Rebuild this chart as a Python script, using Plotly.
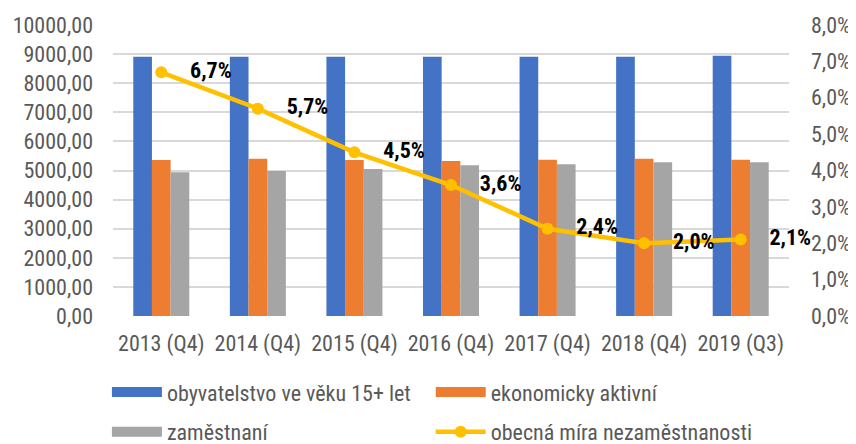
import plotly.graph_objects as go

categories = ["2013 (Q4)", "2014 (Q4)", "2015 (Q4)", "2016 (Q4)", "2017 (Q4)", "2018 (Q4)", "2019 (Q3)"]
obyvatelstvo = [8905, 8905, 8905, 8905, 8905, 8905, 8945]
aktivni = [5365, 5405, 5365, 5325, 5370, 5405, 5370]
zamestnani = [4940, 4985, 5055, 5180, 5215, 5280, 5280]
mira = [6.7, 5.7, 4.5, 3.6, 2.4, 2.0, 2.1]

names = ["obyvatelstvo ve věku 15+ let", "ekonomicky aktivní", "zaměstnaní", "obecná míra nezaměstnanosti"]
BLUE, ORANGE, GRAY, YELLOW = "#4472C4", "#ED7D31", "#A5A5A5", "#FFC000"

FONT = "Roboto Condensed, Roboto, sans-serif"
TICKC = "#595959"
FS = 22

fig = go.Figure()
for vals, col in [(obyvatelstvo, BLUE), (aktivni, ORANGE), (zamestnani, GRAY)]:
    fig.add_trace(go.Bar(x=categories, y=vals, marker=dict(color=col, line=dict(width=0)),
                         showlegend=False, hoverinfo="y"))

labels = ["    " + f"{v:.1f}".replace(".", ",") + "%" for v in mira]
fig.add_trace(go.Scatter(x=categories, y=mira, yaxis="y2", mode="lines+markers+text",
                         line=dict(color=YELLOW, width=4.5), marker=dict(color=YELLOW, size=12),
                         text=labels, textposition="middle right", cliponaxis=False,
                         textfont=dict(family=FONT, size=22, color="black", weight="bold"),
                         name=names[3], legend="legend2", legendgroup="d", legendrank=2))

# legend proxies for the bar series (wide swatches)
for nm, col, lg, grp, rk in [(names[0], BLUE, "legend", "a", 1), (names[2], GRAY, "legend", "c", 2),
                              (names[1], ORANGE, "legend2", "b", 1)]:
    fig.add_trace(go.Scatter(x=[None], y=[None], mode="lines", line=dict(color=col, width=11),
                             name=nm, legend=lg, legendgroup=grp, legendrank=rk))

fig.update_layout(
    width=848, height=436,
    margin=dict(l=105, r=67, t=17, b=128, autoexpand=False),
    paper_bgcolor="white", plot_bgcolor="white",
    separators=",.",
    font=dict(family=FONT, size=FS, color=TICKC),
    barmode="group", bargap=0.42, bargroupgap=0,
    xaxis=dict(showgrid=False, showline=False, ticks="", tickangle=0, automargin=False,
               ticklabelstandoff=12, tickfont=dict(size=FS, color=TICKC)),
    yaxis=dict(range=[0, 10000], dtick=1000, tickformat=".2f", showgrid=True, automargin=False,
               gridcolor="#D9D9D9", gridwidth=2, zeroline=False, showline=False,
               ticklabelstandoff=19, tickfont=dict(size=FS, color=TICKC)),
    yaxis2=dict(range=[0, 8], dtick=1, tickformat=".1f", ticksuffix="%", overlaying="y",
                side="right", showgrid=False, zeroline=False, showline=False, automargin=False,
                ticklabelstandoff=21, tickfont=dict(size=FS, color=TICKC)),
    legend=dict(x=-0.009, y=-0.19, xanchor="left", yanchor="top", orientation="v",
                itemwidth=50, tracegroupgap=8, font=dict(size=FS, color=TICKC),
                bgcolor="rgba(0,0,0,0)", traceorder="grouped"),
    legend2=dict(x=0.47, y=-0.19, xanchor="left", yanchor="top", orientation="v",
                 itemwidth=50, tracegroupgap=8, font=dict(size=FS, color=TICKC),
                 bgcolor="rgba(0,0,0,0)", traceorder="grouped"),
    showlegend=True,
)

fig.write_html("out.html")
